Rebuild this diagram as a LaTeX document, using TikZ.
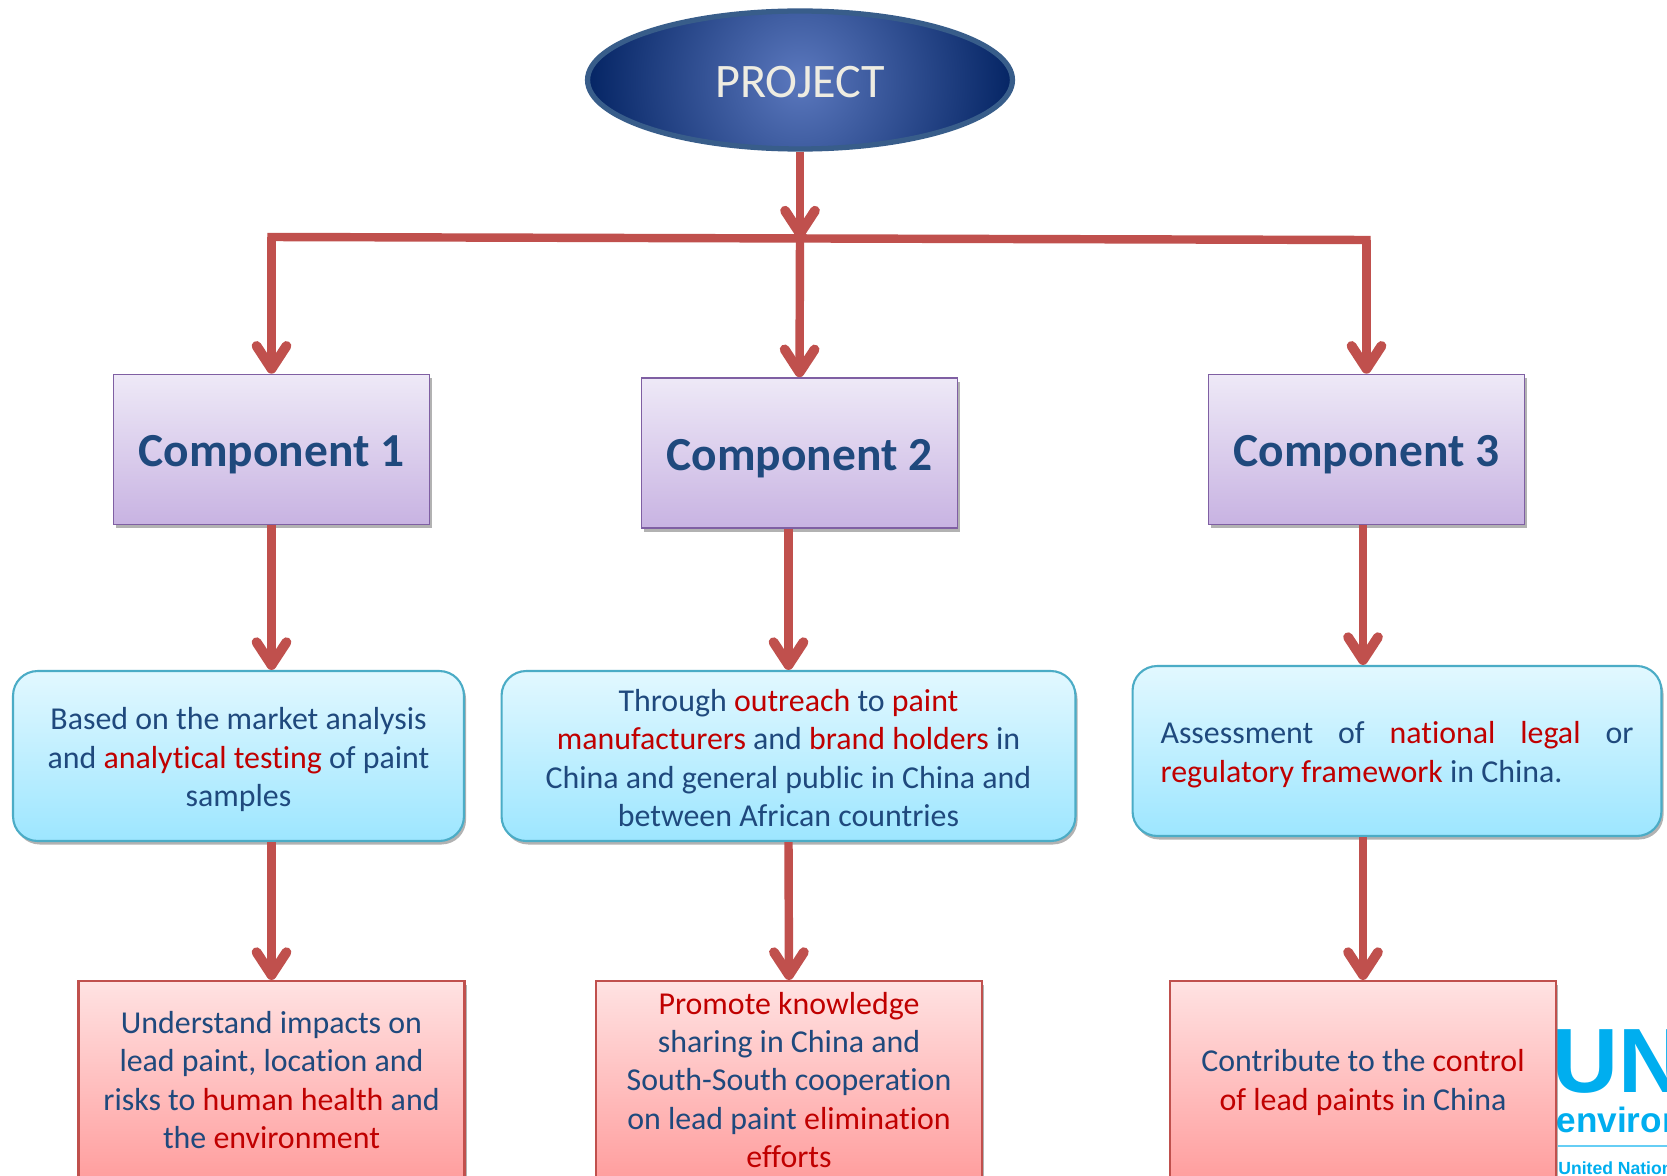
\documentclass[tikz,border=0pt]{standalone}
\usepackage{fontspec}
\setmainfont[Ligatures=NoCommon]{Carlito}
\newfontfamily\logofont{Liberation Sans}
\usetikzlibrary{arrows.meta,shapes.geometric,shadows,calc}
\definecolor{txtblue}{HTML}{1F497D}
\definecolor{txtred}{HTML}{C00000}
\definecolor{arrowred}{HTML}{C0504D}
\definecolor{logoblue}{HTML}{00AEEF}
\definecolor{projcenter}{HTML}{5B78BE}
\definecolor{projouter}{HTML}{00205F}
\definecolor{projectedge}{HTML}{385D8A}
\definecolor{projecttext}{HTML}{EEECE1}
\definecolor{compedge}{HTML}{7F5FA3}
\definecolor{comptop}{HTML}{EEE9F7}
\definecolor{compbot}{HTML}{C8B3E2}
\definecolor{blueedge}{HTML}{4BACC6}
\definecolor{bluetop}{HTML}{E2F8FF}
\definecolor{bluebot}{HTML}{9DE6FF}
\definecolor{rededge}{HTML}{C0504D}
\definecolor{redtop}{HTML}{FFE2E2}
\definecolor{redbot}{HTML}{FF9E9E}
\newcommand{\hot}[1]{\textcolor{txtred}{#1}}
\newcommand{\topstrut}[1]{\rule{0pt}{#1}\ignorespaces}
\tikzset{
  softshadow/.style={drop shadow={shadow xshift=1.2pt,shadow yshift=-2pt,opacity=.3,fill=black}},
  bodytext/.style={text=txtblue,font=\fontsize{18.15}{21.9}\selectfont,align=center,inner sep=0pt},
  projectnode/.style={ellipse,draw=projectedge,line width=3pt,minimum width=8.5cm,minimum height=2.76cm,inner sep=0pt,text=projecttext,font=\fontsize{27.4}{33}\selectfont},
  compbox/.style={draw=compedge,line width=0.9pt,top color=comptop,bottom color=compbot,minimum width=6.32cm,minimum height=3.0cm,inner sep=0pt,text=txtblue,font=\fontsize{27}{32}\selectfont\bfseries,softshadow},
  bluebox/.style={bodytext,rectangle,rounded corners=14pt,draw=blueedge,line width=1.2pt,top color=bluetop,bottom color=bluebot,softshadow},
  redbox/.style={bodytext,rectangle,draw=rededge,line width=1.2pt,top color=redtop,bottom color=redbot,minimum width=7.72cm,minimum height=3.96cm,softshadow},
  arrowline/.style={draw=arrowred,line width=4.8pt,-{Straight Barb[length=13pt,width=17pt,line width=5.6pt,line cap=round,line join=round]}},
  railline/.style={draw=arrowred,line width=4.8pt,line cap=rect},
}
\begin{document}
\begin{tikzpicture}[x=0.02cm,y=-0.02cm]
\clip (0,0) rectangle (1667,1176);
\fill[white] (0,0) rectangle (1667,1176);

% logo (clipped by the picture edge)
\node[anchor=base west,inner sep=0pt,text=logoblue,font=\logofont\fontsize{52}{52}\selectfont\bfseries] (logoa) at (1558,1092) {\kern-3.5pt UN};
\node[anchor=base west,inner sep=0pt,text=logoblue,font=\logofont\fontsize{20}{22}\selectfont\bfseries] (logob) at (1558,1132) {\kern-1pt environment};
\node[anchor=base west,inner sep=0pt,text=logoblue,font=\logofont\fontsize{10}{12}\selectfont\bfseries] (logoc) at (1558,1174) {United Nations};
\draw[logoblue!60,line width=1pt] (1558,1146) -- (1667,1146);

% project
\node[projectnode,path picture={\shade[inner color=projcenter,outer color=projouter] ($(path picture bounding box.center)+(-225,-225)$) rectangle ($(path picture bounding box.center)+(225,225)$);}] (project) at (800,80) {\topstrut{20.5pt}PROJECT};

% components
\node[compbox] (c1) at (271.5,449.5) {\topstrut{24pt}Component 1};
\node[compbox] (c2) at (799.5,453) {\topstrut{24pt}Component 2};
\node[compbox] (c3) at (1366.5,449.5) {\topstrut{24pt}Component 3};

% middle boxes
\node[bluebox,minimum width=9.02cm,minimum height=3.4cm] (b1) at (238.5,756) {\topstrut{17pt}Based on the market analysis\\and \hot{analytical testing} of paint\\samples};
\node[bluebox,minimum width=11.48cm,minimum height=3.4cm] (b2) at (788.5,756) {\topstrut{15pt}Through \hot{outreach} to \hot{paint}\\\hot{manufacturers} and \hot{brand holders} in\\China and general public in China and\\between African countries};
\node[bluebox,minimum width=10.58cm,minimum height=3.4cm,text width=9.46cm,align=justify] (b3) at (1397,751) {\topstrut{17pt}Assessment of \hot{national legal} or\linebreak \hot{regulatory framework} in China.};

% result boxes
\node[redbox] (r1) at (271.5,1080) {Understand impacts on\\lead paint, location and\\risks to \hot{human health} and\\the \hot{environment}};
\node[redbox] (r2) at (789,1080) {\hot{Promote knowledge}\\sharing in China and\\South-South cooperation\\on lead paint \hot{elimination}\\\hot{efforts}};
\node[redbox] (r3) at (1363,1080) {\topstrut{15.7pt}Contribute to the \hot{control}\\\hot{of lead paints} in China};

% junctions
\coordinate (railleft) at (271.5,237);
\coordinate (railmid) at (800,238.5);
\coordinate (railright) at (1366.5,240);

% connectors
\draw[arrowline] (project.south) -- (railmid);
\draw[railline] (railleft) -- (railright);
\draw[arrowline] (railleft) -- (c1.north);
\draw[arrowline] (railmid) -- (c2.north);
\draw[arrowline] (railright) -- (c3.north);
\draw[arrowline] (c1.south) -- (c1.south |- b1.north);
\draw[arrowline] (b2.north |- c2.south) -- (b2.north);
\draw[arrowline] (r3.north |- c3.south) -- (r3.north |- b3.north);
\draw[arrowline] (r1.north |- b1.south) -- (r1.north);
\draw[arrowline] (b2.south) -- (r2.north);
\draw[arrowline] (r3.north |- b3.south) -- (r3.north);
\end{tikzpicture}
\end{document}
